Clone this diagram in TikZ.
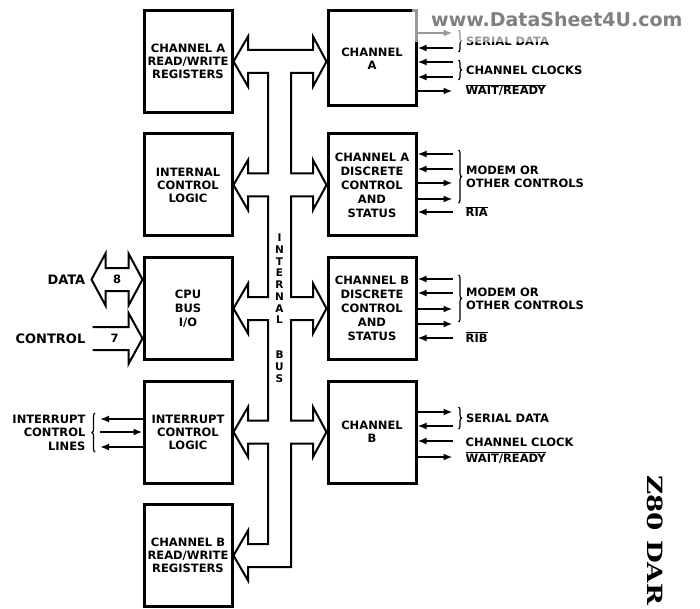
\documentclass[tikz,border=0pt]{standalone}
\usepackage{fontspec}
\setsansfont{DejaVu Sans}
\newfontfamily\tabfont{DejaVu Serif}
\usetikzlibrary{positioning, arrows.meta, decorations.pathreplacing, calc}

\newcommand{\barsig}[1]{$\overline{\mbox{#1}}$}

\tikzset{
  blockbox/.style={draw, line width=3pt, minimum width=88pt, minimum height=102pt,
                   align=center, inner sep=1pt},
  spread/.style={font=\sffamily\bfseries\fontsize{11.5}{14}\selectfont},
  busline/.style={line width=2pt, line join=miter},
  sigout/.style={line width=1.9pt, -{Latex[length=9pt,width=7pt]}},
  sigin/.style={line width=1.9pt, {Latex[length=9pt,width=7pt]}-},
  grp/.style={line width=1.2pt, decorate, decoration={brace, amplitude=3pt}},
  sigtext/.style={inner sep=0pt, align=left},
  lblbig/.style={inner sep=0pt, font=\sffamily\bfseries\fontsize{13}{13}\selectfont},
}

\begin{document}
\begin{tikzpicture}[x=1pt, y=1pt, font=\sffamily\bfseries\fontsize{11.5}{13}\selectfont]
  \path[use as bounding box, fill=white] (0,0) rectangle (700,-609);

  % left column
  \node[blockbox] (chArw) at (188,-61.5) {CHANNEL A\\READ/WRITE\\REGISTERS};
  \node[blockbox, below=18.5pt of chArw] (intCtl) {INTERNAL\\CONTROL\\LOGIC};
  \node[blockbox, spread, below=18.5pt of intCtl] (cpuIo) {CPU\\BUS\\I/O};
  \node[blockbox, below=18.5pt of cpuIo] (irqCtl) {INTERRUPT\\CONTROL\\LOGIC};
  \node[blockbox, below=18.5pt of irqCtl] (chBrw) {CHANNEL B\\READ/WRITE\\REGISTERS};

  % right column
  \node[blockbox, spread, right=93pt of intCtl] (chAdisc)
    {CHANNEL A\\DISCRETE\\CONTROL\\AND\\STATUS};
  \node[blockbox, minimum height=95pt, above=25pt of chAdisc] (chA) {CHANNEL\\A};
  \node[blockbox, spread, right=93pt of cpuIo] (chBdisc)
    {CHANNEL B\\DISCRETE\\CONTROL\\AND\\STATUS};
  \node[blockbox, right=93pt of irqCtl] (chB) {CHANNEL\\B};

  % internal bus
  \coordinate (hl) at (248,0);
  \coordinate (bl) at (268,0);
  \coordinate (br) at (291,0);
  \coordinate (hr) at (313,0);
  \draw[busline] ($(hl |- chArw)+(0,11.5)$)
    foreach \y/\x in {chArw/chA, chAdisc/chAdisc, chBdisc/chBdisc, chB/chB} {
      -- ($(br |- \y)+(0,11.5)$) -- ($(hr |- \y)+(0,11.5)$) -- ($(hr |- \y)+(0,25)$)
      -- (\x.west |- \y) -- ($(hr |- \y)+(0,-25)$) -- ($(hr |- \y)+(0,-11.5)$)
      -- ($(br |- \y)+(0,-11.5)$) }
    -- ($(br |- chBrw)+(0,-11.5)$)
    foreach \n in {chBrw, irqCtl, cpuIo, intCtl} {
      -- ($(bl |- \n)+(0,-11.5)$) -- ($(hl |- \n)+(0,-11.5)$) -- ($(hl |- \n)+(0,-25)$)
      -- (\n.east) -- ($(hl |- \n)+(0,25)$) -- ($(hl |- \n)+(0,11.5)$)
      -- ($(bl |- \n)+(0,11.5)$) }
    -- ($(bl |- chArw)+(0,-11.5)$) -- ($(hl |- chArw)+(0,-11.5)$)
    -- ($(hl |- chArw)+(0,-25)$) -- (chArw.east) -- ($(hl |- chArw)+(0,25)$) -- cycle;
  \foreach \c/\k in {I/0, N/1, T/2, E/3, R/4, N/5, A/6, L/7, B/10, U/11, S/12}
    \node[inner sep=0pt, font=\sffamily\bfseries\fontsize{10.5}{10.5}\selectfont]
      (bus\k) at (279.5,{-238-11.7*\k}) {\c};

  % data and control into the CPU side
  \coordinate (dtip) at ($(cpuIo.west)+(0,29)$);
  \draw[busline] (dtip) -- ++(-14,26) -- ++(0,-14.5) -- ++(-23,0) -- ++(0,14.5)
    -- ++(-14,-26) -- ++(14,-26) -- ++(0,14.5) -- ++(23,0) -- ++(0,-14.5) -- cycle;
  \node[inner sep=0pt] (width8) at ($(dtip)+(-25.5,0)$) {8};
  \node[lblbig, anchor=east] (dataLbl) at ($(dtip)+(-57,0)$) {DATA};
  \coordinate (ctip) at ($(cpuIo.west)+(0,-30)$);
  \draw[busline] ($(ctip)+(-50,11.5)$) -- ++(36,0) -- ++(0,14) -- (ctip)
    -- ++(-14,-25.5) -- ++(0,14) -- ++(-36,0);
  \node[inner sep=0pt] (width7) at ($(ctip)+(-28,0)$) {7};
  \node[lblbig, anchor=east] (ctlLbl) at ($(ctip)+(-57,0)$) {CONTROL};

  % interrupt lines
  \foreach \dy/\s [count=\i] in {13/sigout, 0/sigin, -15/sigout} {
    \coordinate (ia\i) at ($(irqCtl.west)+(-42.5,\dy)$);
    \draw[\s] (irqCtl.west |- ia\i) -- (ia\i);
  }
  \draw[grp] ($(irqCtl.west)+(-47.5,-20)$) -- node[left=9pt, sigtext, align=right,
      font=\sffamily\bfseries\fontsize{11.5}{13.5}\selectfont] (irqLbl)
      {INTERRUPT\\CONTROL\\LINES} ($(irqCtl.west)+(-47.5,19)$);

  % channel A signals
  \foreach \dy/\s [count=\i] in {28.5/sigout, 13.5/sigin, -0.5/sigin, -15.5/sigin, -29.5/sigout} {
    \coordinate (a\i) at ($(chA.east |- chArw)+(35,\dy)$);
    \draw[\s] (chA.east |- a\i) -- (a\i);
  }
  \draw[grp] ($(chA.east |- chArw)+(41,31.5)$) -- node[right=7pt, sigtext] (sdA)
    {SERIAL DATA} ($(chA.east |- chArw)+(41,9.5)$);
  \draw[grp] ($(chA.east |- chArw)+(41,1.5)$) -- node[right=7pt, sigtext] (ckA)
    {CHANNEL CLOCKS} ($(chA.east |- chArw)+(41,-18.5)$);
  \node[sigtext, anchor=base west] (wrA) at ($(chA.east |- chArw)+(48,-33.5)$)
    {\barsig{WAIT/READY}};

  % channel A discrete signals
  \foreach \dy/\s [count=\i] in {31/sigin, 16/sigin, 2/sigout, -14/sigout, -27/sigin} {
    \coordinate (ad\i) at ($(chAdisc.east)+(35,\dy)$);
    \draw[\s] (chAdisc.east |- ad\i) -- (ad\i);
  }
  \draw[grp] ($(chAdisc.east)+(41,35)$) -- node[right=7pt, sigtext] (moA)
    {MODEM OR\\OTHER CONTROLS} ($(chAdisc.east)+(41,-18)$);
  \node[sigtext, anchor=base west] (ria) at ($(chAdisc.east)+(48,-32)$) {\barsig{RIA}};

  % channel B discrete signals
  \foreach \dy/\s [count=\i] in {29.5/sigin, 15.5/sigin, -0.5/sigout, -15.5/sigout, -29.5/sigin} {
    \coordinate (bd\i) at ($(chBdisc.east)+(35,\dy)$);
    \draw[\s] (chBdisc.east |- bd\i) -- (bd\i);
  }
  \draw[grp] ($(chBdisc.east)+(41,33.5)$) -- node[right=7pt, sigtext] (moB)
    {MODEM OR\\OTHER CONTROLS} ($(chBdisc.east)+(41,-13.5)$);
  \node[sigtext, anchor=base west] (rib) at ($(chBdisc.east)+(48,-33.5)$) {\barsig{RIB}};

  % channel B signals
  \foreach \dy/\s [count=\i] in {20/sigout, 6/sigin, -9/sigin, -25/sigout} {
    \coordinate (b\i) at ($(chB.east)+(35,\dy)$);
    \draw[\s] (chB.east |- b\i) -- (b\i);
  }
  \draw[grp] ($(chB.east)+(41,25)$) -- node[right=7pt, sigtext] (sdB)
    {SERIAL DATA} ($(chB.east)+(41,3)$);
  \node[sigtext, anchor=base west] (ckB) at ($(chB.east)+(48,-14)$) {CHANNEL CLOCK};
  \node[sigtext, anchor=base west] (wrB) at ($(chB.east)+(48,-30)$) {\barsig{WAIT/READY}};

  % side tab
  \node[rotate=-90, anchor=base west, inner sep=0pt,
        font=\tabfont\bfseries\fontsize{21}{21}\selectfont] (tab) at (647,-475)
    {\scalebox{1.25}[1]{Z80 DAR}};

  % watermark
  \fill[white, opacity=0.6] (412,0) rectangle (700,-42);
  \node[anchor=base west, inner sep=0pt, text=black!50,
        font=\sffamily\bfseries\fontsize{19}{19}\selectfont] (wmark) at (431,-27)
    {www.DataSheet4U.com};
\end{tikzpicture}
\end{document}
